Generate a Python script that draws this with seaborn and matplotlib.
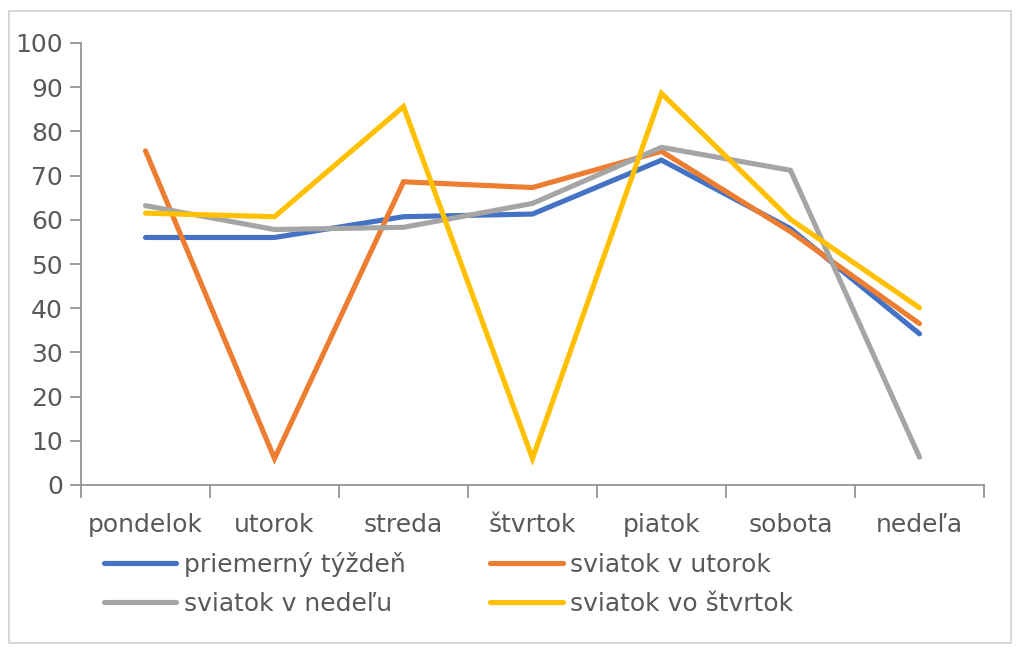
import pandas as pd
import matplotlib
matplotlib.use('Agg')
import matplotlib.pyplot as plt
import seaborn as sns
from matplotlib.patches import Rectangle
from matplotlib.ticker import FixedLocator

days = ['pondelok', 'utorok', 'streda', 'štvrtok', 'piatok', 'sobota', 'nedeľa']
series_names = ['priemerný týždeň', 'sviatok v utorok', 'sviatok v nedeľu', 'sviatok vo štvrtok']
avg_week = [56.0, 56.0, 60.7, 61.3, 73.5, 58.0, 34.2]
holiday_tue = [75.6, 6.0, 68.6, 67.3, 75.5, 57.3, 36.5]
holiday_sun = [63.2, 57.8, 58.3, 63.7, 76.4, 71.2, 6.3]
holiday_thu = [61.5, 60.7, 85.6, 6.0, 88.6, 60.1, 40.1]
colors = ['#4472C4', '#ED7D31', '#A5A5A5', '#FFC000']
y_ticks = list(range(0, 101, 10))

rows = []
for name, vals in zip(series_names, [avg_week, holiday_tue, holiday_sun, holiday_thu]):
    for d, v in zip(days, vals):
        rows.append({'den': d, 'hodnota': v, 'rad': name})
df = pd.DataFrame(rows)

sns.set_style('white')
plt.rcParams['font.family'] = ['DejaVu Sans']
text_col = '#595959'
axis_col = '#8c8c8c'

fig = plt.figure(figsize=(10.24, 6.55), dpi=100)
ax = fig.add_axes([81 / 1024, 1 - 485 / 655, (984 - 81) / 1024, (485 - 43) / 655])

sns.lineplot(data=df, x='den', y='hodnota', hue='rad', hue_order=series_names,
             palette=colors, linewidth=3.7, ax=ax, sort=False, legend=True)
for ln in ax.lines:
    ln.set_solid_joinstyle('miter')
    ln.set_solid_capstyle('round')

ax.set_xlim(-0.5, len(days) - 0.5)
ax.set_ylim(0, 100)
ax.set_yticks(y_ticks)
ax.set_xticks(range(len(days)))
ax.set_xticklabels(days)
ax.xaxis.set_minor_locator(FixedLocator([i - 0.5 for i in range(len(days) + 1)]))
ax.tick_params(axis='x', which='major', length=0, pad=20, labelsize=18, labelcolor=text_col)
ax.tick_params(axis='x', which='minor', length=9, width=1.2, color=axis_col, direction='out', bottom=True)
ax.tick_params(axis='y', length=8, width=1.2, color=axis_col, direction='out', left=True,
               labelsize=18, labelcolor=text_col, pad=5)
ax.set_xlabel('')
ax.set_ylabel('')

for s in ['top', 'right']:
    ax.spines[s].set_visible(False)
for s in ['left', 'bottom']:
    ax.spines[s].set_color(axis_col)
    ax.spines[s].set_linewidth(1.2)

# row-wise legend order like the original
handles, labels = ax.get_legend_handles_labels()
order = [0, 2, 1, 3]
ax.legend([handles[i] for i in order], [labels[i] for i in order], ncol=2, frameon=False,
          loc='upper left', bbox_to_anchor=(0.0, -0.10), fontsize=18, labelcolor=text_col,
          handlelength=2.9, handletextpad=0.3, columnspacing=3.4, labelspacing=0.62)

fig.patches.append(Rectangle((9 / 1024, 1 - 643 / 655), 1002 / 1024, 632 / 655,
                             transform=fig.transFigure, fill=False,
                             edgecolor='#d0d0d0', linewidth=1.2))

fig.savefig('out.png', dpi=100)
